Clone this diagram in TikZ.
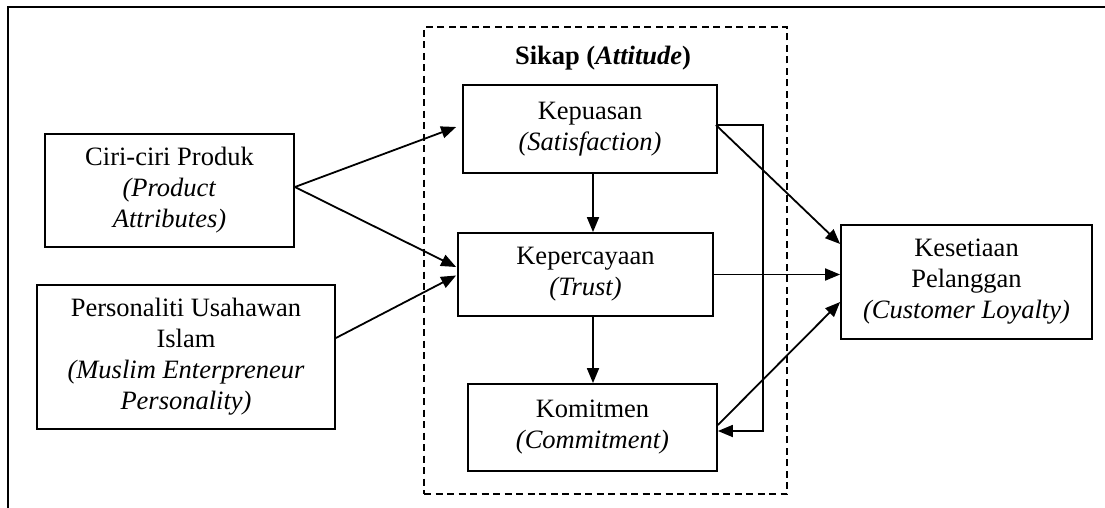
\documentclass[tikz,border=0pt]{standalone}
\usepackage{fontspec}
\setmainfont{Liberation Serif}
\usetikzlibrary{arrows.meta,calc}

\begin{document}
\begin{tikzpicture}[x=1pt,y=-1pt,
  every node/.style={font=\fontsize{26.5}{31}\selectfont, align=center, inner sep=0pt},
  stepbox/.style={draw, line width=1.8pt, minimum width=#1},
  arr/.style={line width=1.8pt, -{Triangle[length=15pt,width=12pt]}}]
  \useasboundingbox (0,0) rectangle (1105,508);

  % outer frame (top and left edges only)
  \draw[line width=2.4pt] (8,508) -- (8,7) -- (1105,7);

  % attitude group
  \node[draw, dash pattern=on 7pt off 4.5pt, line width=1.7pt,
        minimum width=363pt, minimum height=467pt] (grp) at (605.5,260.5) {};
  \node (sikap) at (603,58) {\textbf{Sikap (\textit{Attitude})}};

  % boxes
  \node[stepbox=249pt, minimum height=113pt] (ciri) at (169.5,190.5)
    {Ciri-ciri Produk\\\textit{(Product}\\\textit{Attributes)}};
  \node[stepbox=298pt, minimum height=144pt] (pers) at (186,357)
    {Personaliti Usahawan\\Islam\\\textit{(Muslim Enterpreneur}\\\textit{Personality)}};
  \node[stepbox=254pt, minimum height=88pt] (kpu) at (590,129)
    {Kepuasan\\\textit{(Satisfaction)}};
  \node[stepbox=255pt, minimum height=83pt] (kpc) at (585.5,274.5)
    {Kepercayaan\\\textit{(Trust)}};
  \node[stepbox=249pt, minimum height=87pt] (kom) at (592.5,427.5)
    {Komitmen\\\textit{(Commitment)}};
  \node[stepbox=251pt, minimum height=114pt] (kes) at (966.5,282)
    {Kesetiaan\\Pelanggan\\\textit{(Customer Loyalty)}};

  % connection points
  \coordinate (ciriout) at ($(ciri.east)+(0,-3.5)$);
  \coordinate (persout) at ($(pers.east)+(0,-19)$);
  \coordinate (kpuin) at ($(kpu.west)+(-6,-2)$);
  \coordinate (kpcinA) at ($(kpc.west)+(-1,-7.5)$);
  \coordinate (kpcinB) at ($(kpc.west)+(-1,1)$);
  \coordinate (c1) at ($(kpu.south)+(3,0)$);
  \coordinate (c2) at (c1 |- kpc.south);
  \coordinate (kpuout) at ($(kpu.east)+(-2,-4)$);
  \coordinate (loopx) at (763,0);
  \coordinate (komin) at ($(kom.east)+(0,3.5)$);
  \coordinate (komout) at ($(kom.east)+(0,-2.5)$);

  % arrows
  \draw[arr] (ciriout) -- (kpuin);
  \draw[arr] (ciriout) -- (kpcinA);
  \draw[arr] (persout) -- (kpcinB);
  \draw[arr] (c1) -- (c1 |- kpc.north);
  \draw[arr] (c2) -- (c2 |- kom.north);
  \draw[arr] (kpuout) -- ($(kes.west)+(0,-38)$);
  \draw[arr] (kpuout) -- (kpuout -| loopx) -- (komin -| loopx) -- (komin);
  \draw[arr] (kpc.east) -- (kpc.east -| kes.west);
  \draw[arr] (komout) -- ($(kes.west)+(0,20)$);
\end{tikzpicture}
\end{document}
